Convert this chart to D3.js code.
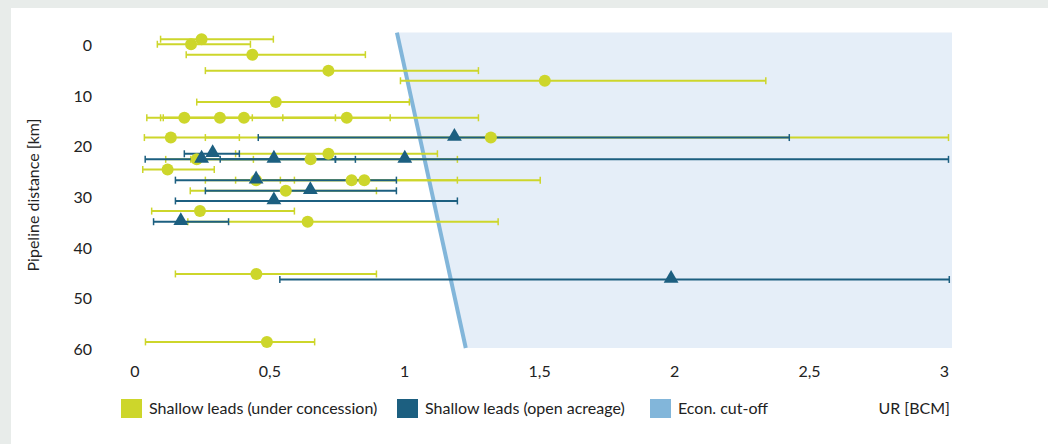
<!DOCTYPE html>
<html>
<head>
<meta charset="utf-8">
<script src="https://cdn.jsdelivr.net/npm/d3@7"></script>
<style>
  body{margin:0;padding:0;background:#fff;}
  svg text{font-family:Lato,"Open Sans",sans-serif;fill:#222;}
</style>
</head>
<body>
<svg id="chart"></svg>
<script>
// shallow leads under concession: distance km, UR, low, high
var concession=[
  {km:-1.2,ur:0.249,lo:0.097,hi:0.515},
  {km:-0.2,ur:0.210,lo:0.085,hi:0.430},
  {km:1.85,ur:0.437,lo:0.192,hi:0.856},
  {km:5.0,ur:0.719,lo:0.263,hi:1.275},
  {km:7.0,ur:1.521,lo:0.986,hi:2.340},
  {km:11.2,ur:0.524,lo:0.231,hi:1.019},
  {km:14.3,ur:0.185,lo:0.046,hi:0.437},
  {km:14.3,ur:0.317,lo:0.097,hi:0.745},
  {km:14.3,ur:0.406,lo:0.107,hi:0.948},
  {km:14.3,ur:0.787,lo:0.550,hi:1.275},
  {km:18.2,ur:0.135,lo:0.037,hi:0.389},
  {km:18.2,ur:1.321,lo:0.263,hi:3.017},
  {km:21.4,ur:0.719,lo:0.375,hi:1.123},
  {km:22.5,ur:0.231,lo:0.116,hi:0.441},
  {km:22.5,ur:0.653,lo:0.209,hi:1.197},
  {km:24.5,ur:0.123,lo:0.031,hi:0.296},
  {km:26.6,ur:0.451,lo:0.263,hi:0.593},
  {km:26.6,ur:0.805,lo:0.541,hi:1.197},
  {km:26.6,ur:0.852,lo:0.375,hi:1.504},
  {km:28.7,ur:0.561,lo:0.207,hi:0.897},
  {km:32.7,ur:0.243,lo:0.064,hi:0.593},
  {km:34.8,ur:0.642,lo:0.198,hi:1.348},
  {km:45.1,ur:0.452,lo:0.152,hi:0.897},
  {km:58.5,ur:0.491,lo:0.041,hi:0.668}
];
// shallow leads open acreage
var openAcreage=[
  {km:18.2,ur:1.186,lo:0.459,hi:2.427},
  {km:21.4,ur:0.290,lo:0.185,hi:0.389},
  {km:22.5,ur:0.249,lo:0.040,hi:0.745},
  {km:22.5,ur:0.517,lo:0.318,hi:0.819},
  {km:22.5,ur:1.002,lo:0.745,hi:3.017},
  {km:26.6,ur:0.451,lo:0.152,hi:0.971},
  {km:28.7,ur:0.652,lo:0.263,hi:0.971},
  {km:30.7,ur:0.517,lo:0.152,hi:1.197},
  {km:34.8,ur:0.172,lo:0.071,hi:0.349},
  {km:46.2,ur:1.989,lo:0.539,hi:3.020}
];
// economic cut-off line (km, UR)
var cutoff=[{km:-2.5,ur:0.973},{km:59.7,ur:1.228}];
var xTicks=[0,0.5,1,1.5,2,2.5,3];
var yTicks=[0,10,20,30,40,50,60];
var legendItems=[
  {label:"Shallow leads (under concession)",color:"#cdd62b"},
  {label:"Shallow leads (open acreage)",color:"#1c5f80"},
  {label:"Econ. cut-off",color:"#82b6da"}
];

var w=1048,h=444;
var yellow="#cdd62b",blue="#1c5f80",light="#82b6da";
var svg=d3.select("#chart").attr("width",w).attr("height",h);

svg.append("rect").attr("width",w).attr("height",h).attr("fill","#e8ecea");
svg.append("rect").attr("x",11).attr("y",8).attr("width",w-11).attr("height",h-8).attr("fill","#fff");

var xScale=d3.scaleLinear().domain([0,3]).range([134.4,943.9]);
var yScale=d3.scaleLinear().domain([-2.5,60]).range([32.6,349.5]);
var xMax=3.03,yTop=-2.5,yBot=59.7;

var comma=d3.formatLocale({decimal:",",thousands:".",grouping:[3],currency:["","€"]}).format("");

// shaded region right of cut-off
var shade=[
  [xScale(cutoff[0].ur),yScale(yTop)],
  [xScale(xMax),yScale(yTop)],
  [xScale(xMax),yScale(yBot)],
  [xScale(cutoff[1].ur),yScale(yBot)]
];
svg.append("path")
   .attr("d","M"+shade.join("L")+"Z")
   .attr("fill","#e5eef8");

var line=d3.line()
           .x(function(d){return xScale(d.ur);})
           .y(function(d){return yScale(d.km);});
svg.append("path")
   .datum(cutoff)
   .attr("d",line)
   .attr("fill","none")
   .attr("stroke",light)
   .attr("stroke-width",4);

// axes without lines
var xAxis=d3.axisBottom(xScale).tickValues(xTicks).tickSize(0).tickPadding(0)
            .tickFormat(function(d){return comma(d);});
var gx=svg.append("g").attr("transform","translate(0,366)").call(xAxis);
gx.select(".domain").remove();
gx.selectAll("text").attr("font-size",16).attr("font-family","Lato").attr("fill","#222");

var yAxis=d3.axisLeft(yScale).tickValues(yTicks).tickSize(0).tickPadding(0);
var gy=svg.append("g").attr("transform","translate(92,0)").call(yAxis);
gy.select(".domain").remove();
gy.selectAll("text").attr("font-size",16).attr("font-family","Lato").attr("fill","#222");

svg.append("text")
   .attr("transform","translate(39,195) rotate(-90)")
   .attr("text-anchor","middle")
   .attr("font-size",16)
   .text("Pipeline distance [km]");

function errorBars(data,color,cls){
  var g=svg.append("g").classed(cls,true);
  g.selectAll("line.bar").data(data).enter().append("line")
   .attr("x1",function(d){return xScale(d.lo);})
   .attr("x2",function(d){return xScale(d.hi);})
   .attr("y1",function(d){return yScale(d.km);})
   .attr("y2",function(d){return yScale(d.km);})
   .attr("stroke",color).attr("stroke-width",2);
  ["lo","hi"].forEach(function(k){
    g.selectAll("line.cap"+k).data(data).enter().append("line")
     .attr("x1",function(d){return xScale(d[k]);})
     .attr("x2",function(d){return xScale(d[k]);})
     .attr("y1",function(d){return yScale(d.km)-3.5;})
     .attr("y2",function(d){return yScale(d.km)+3.5;})
     .attr("stroke",color).attr("stroke-width",1.5);
  });
}
errorBars(concession,yellow,"concBars");
errorBars(openAcreage,blue,"openBars");

svg.append("g").selectAll("circle")
   .data(concession).enter().append("circle")
   .attr("cx",function(d){return xScale(d.ur);})
   .attr("cy",function(d){return yScale(d.km);})
   .attr("r",6)
   .attr("fill",yellow);

var tri=d3.symbol().type(d3.symbolTriangle).size(95);
svg.append("g").selectAll("path")
   .data(openAcreage).enter().append("path")
   .attr("d",tri)
   .attr("transform",function(d){return "translate("+xScale(d.ur)+","+(yScale(d.km)-1)+")";})
   .attr("fill",blue);

// legend
var legX=[121,397,650];
var leg=svg.append("g");
legendItems.forEach(function(d,i){
  leg.append("rect").attr("x",legX[i]).attr("y",399).attr("width",21).attr("height",19).attr("fill",d.color);
  leg.append("text").attr("x",legX[i]+28).attr("y",414).attr("font-size",16).text(d.label);
});
leg.append("text").attr("x",950).attr("y",414).attr("text-anchor","end").attr("font-size",16).text("UR [BCM]");
</script>
</body>
</html>
